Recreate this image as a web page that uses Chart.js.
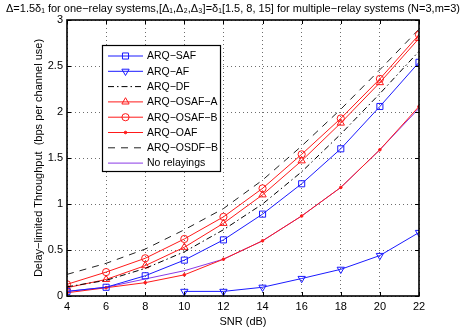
<!DOCTYPE html>
<html><head><meta charset="utf-8">
<script src="https://cdn.jsdelivr.net/npm/chart.js@4/dist/chart.umd.min.js"></script>
<style>html,body{margin:0;padding:0;background:#fff}#c{display:block}</style>
</head><body>
<div style="width:466px;height:331px"><canvas id="c" width="466" height="331"></canvas></div>
<script>
const snr = [4, 6, 8, 10, 12, 14, 16, 18, 20, 22];
const arqSAF   = [0.05, 0.095, 0.22, 0.39, 0.61, 0.89, 1.22, 1.60, 2.06, 2.54];
const arqAF    = [null, null, null, 0.05, 0.05, 0.095, 0.19, 0.29, 0.44, 0.69];
const arqDF    = [0.10, 0.17, 0.30, 0.48, 0.72, 1.00, 1.35, 1.76, 2.20, 2.66];
const arqOSAFA = [0.09, 0.18, 0.33, 0.53, 0.79, 1.10, 1.47, 1.88, 2.32, 2.80];
const arqOSAFB = [0.127, 0.26, 0.41, 0.62, 0.86, 1.17, 1.54, 1.93, 2.36, 2.84];
const arqOAF   = [0.035, 0.09, 0.145, 0.23, 0.40, 0.60, 0.87, 1.18, 1.59, 2.06];
const arqOSDFB = [0.235, 0.355, 0.51, 0.72, 0.95, 1.26, 1.63, 2.03, 2.46, 2.90];
const noRelay  = [0.05, 0.095, 0.185, 0.275, 0.40, 0.60, 0.87, 1.18, 1.59, 2.04];
const xTickValues = [4, 6, 8, 10, 12, 14, 16, 18, 20, 22];
const xTickLabels = ['4', '6', '8', '10', '12', '14', '16', '18', '20', '22'];
const yTickValues = [0, 0.5, 1, 1.5, 2, 2.5, 3];
const yTickLabels = ['0', '0.5', '1', '1.5', '2', '2.5', '3'];
const titleText = "\u0394=1.5\u03b4\u2081 for one\u2212relay systems,[\u0394\u2081,\u0394\u2082,\u0394\u2083]=\u03b4\u2081[1.5, 8, 15] for multiple\u2212relay systems (N=3,m=3)";
const xTitle = "SNR (dB)";
const yTitle = "Delay\u2212limited Throughput  (bps per channel use)";

const FONT = "'Liberation Sans', Arial, sans-serif";
const pts = arr => snr.map((x, i) => ({x: x, y: arr[i]}));

function ds(label, data, color, opts) {
  return Object.assign({
    label: label, data: pts(data), borderColor: color, backgroundColor: 'rgba(0,0,0,0)',
    borderWidth: 1, pointRadius: 0, pointStyle: 'circle', pointBorderWidth: 1,
    pointBorderColor: color, pointBackgroundColor: 'rgba(0,0,0,0)', tension: 0, spanGaps: false
  }, opts || {});
}

const datasets = [
  ds('ARQ\u2212SAF', arqSAF, '#1a1aff', {pointStyle: 'rect', pointRadius: 4.3}),
  ds('ARQ\u2212AF', arqAF, '#1a1aff', {pointStyle: 'triangle', pointRotation: 180, pointRadius: 4.2}),
  ds('ARQ\u2212DF', arqDF, '#000000', {borderDash: [6, 3, 1.5, 3]}),
  ds('ARQ\u2212OSAF\u2212A', arqOSAFA, '#ff1a1a', {pointStyle: 'triangle', pointRadius: 4.2}),
  ds('ARQ\u2212OSAF\u2212B', arqOSAFB, '#ff1a1a', {pointStyle: 'circle', pointRadius: 3.6}),
  ds('ARQ\u2212OAF', arqOAF, '#ff1a1a', {pointStyle: 'circle', pointRadius: 1.3, pointBackgroundColor: '#ff1a1a'}),
  ds('ARQ\u2212OSDF\u2212B', arqOSDFB, '#222222', {borderDash: [7, 6]}),
  ds('No relayings', noRelay, '#8a3ae6', {})
];

const decor = {
  id: 'decor',
  afterDraw(chart) {
    const ctx = chart.ctx, a = chart.chartArea;
    const xs = chart.scales.x, ys = chart.scales.y;
    ctx.save();
    ctx.strokeStyle = '#000'; ctx.lineWidth = 1;
    xTickValues.forEach(v => {
      const px = Math.round(xs.getPixelForValue(v)) + 0.5;
      ctx.beginPath(); ctx.moveTo(px, a.bottom); ctx.lineTo(px, a.bottom - 4);
      ctx.moveTo(px, a.top); ctx.lineTo(px, a.top + 4); ctx.stroke();
    });
    yTickValues.forEach(v => {
      const py = Math.round(ys.getPixelForValue(v)) + 0.5;
      ctx.beginPath(); ctx.moveTo(a.left, py); ctx.lineTo(a.left + 4, py);
      ctx.moveTo(a.right, py); ctx.lineTo(a.right - 4, py); ctx.stroke();
    });
    ctx.lineWidth = 1.6;
    ctx.strokeRect(a.left, a.top, a.right - a.left, a.bottom - a.top);
    // title
    ctx.fillStyle = '#000';
    ctx.font = '11px ' + FONT;
    ctx.textAlign = 'center'; ctx.textBaseline = 'middle';
    const w = ctx.measureText(titleText).width;
    if (w > 461) ctx.font = (11 * 461 / w) + 'px ' + FONT;
    ctx.fillText(titleText, 233, 9);
    // legend
    const lx = 102, ly = 45, lw = 118, lh = 126;
    ctx.fillStyle = '#fff';
    ctx.fillRect(lx, ly, lw, lh);
    ctx.lineWidth = 1.2; ctx.strokeStyle = '#000';
    ctx.strokeRect(lx + 0.5, ly + 0.5, lw, lh);
    ctx.font = '11px ' + FONT;
    let maxW = 0;
    chart.data.datasets.forEach(d => { maxW = Math.max(maxW, ctx.measureText(d.label).width); });
    if (maxW > 71) ctx.font = (11 * 71 / maxW) + 'px ' + FONT;
    ctx.textAlign = 'left';
    chart.data.datasets.forEach((d, i) => {
      const y = ly + 11 + i * 15.3;
      ctx.save();
      ctx.strokeStyle = d.borderColor; ctx.lineWidth = d.borderWidth;
      ctx.setLineDash(d.borderDash || []);
      ctx.beginPath(); ctx.moveTo(108, y); ctx.lineTo(143, y); ctx.stroke();
      ctx.setLineDash([]);
      if (d.pointRadius > 0) {
        ctx.fillStyle = d.pointBackgroundColor; ctx.strokeStyle = d.pointBorderColor; ctx.lineWidth = 1;
        Chart.helpers.drawPoint(ctx, {pointStyle: d.pointStyle, rotation: d.pointRotation || 0, radius: d.pointRadius, borderWidth: 1}, 125.5, y);
      }
      ctx.restore();
      ctx.fillStyle = '#000';
      ctx.fillText(d.label, 147, y + 0.5);
    });
    ctx.restore();
  }
};

new Chart(document.getElementById('c'), {
  type: 'line',
  data: {datasets: datasets},
  options: {
    responsive: false, animation: false, devicePixelRatio: 1,
    layout: {padding: {left: 28, top: 20, right: 47, bottom: 0}},
    plugins: {legend: {display: false}, title: {display: false}, tooltip: {enabled: false}},
    scales: {
      x: {
        type: 'linear', min: 4, max: 22,
        afterFit(s) { s.height = 35; },
        afterBuildTicks(s) { s.ticks = xTickValues.map(v => ({value: v})); },
        grid: {color: 'rgba(60,60,60,0.75)', lineWidth: 1, drawTicks: false},
        border: {display: false, dash: [1, 3]},
        ticks: {color: '#000', font: {family: FONT, size: 11}, padding: 4, maxRotation: 0, autoSkip: false,
          callback: (v) => { const i = xTickValues.indexOf(v); return i >= 0 ? xTickLabels[i] : ''; }},
        title: {display: true, text: xTitle, color: '#000', font: {family: FONT, size: 11}, padding: {top: 0, bottom: 2}}
      },
      y: {
        type: 'linear', min: 0, max: 3,
        afterFit(s) { s.width = 39; },
        afterBuildTicks(s) { s.ticks = yTickValues.map(v => ({value: v})); },
        grid: {color: 'rgba(60,60,60,0.75)', lineWidth: 1, drawTicks: false},
        border: {display: false, dash: [1, 3]},
        ticks: {color: '#000', font: {family: FONT, size: 11}, padding: 4, autoSkip: false,
          callback: (v) => { const i = yTickValues.indexOf(v); return i >= 0 ? yTickLabels[i] : ''; }},
        title: {display: true, text: yTitle, color: '#000', font: {family: FONT, size: 11}, padding: {top: 4, bottom: 0}}
      }
    }
  },
  plugins: [decor]
});
</script>
</body></html>
